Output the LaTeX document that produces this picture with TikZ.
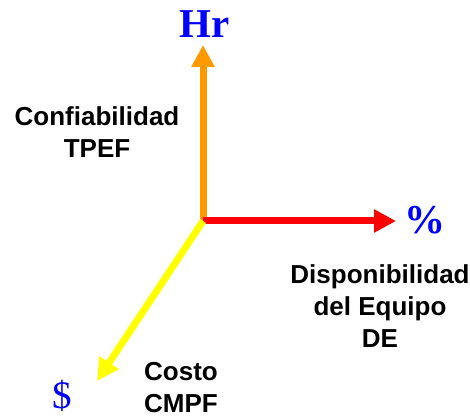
\documentclass[tikz,border=0pt]{standalone}
\usepackage{fontspec}
\setmainfont{Liberation Sans}
\newfontfamily\axisfont{Liberation Serif}
\usepackage{xcolor}
\usetikzlibrary{arrows.meta}
\usetikzlibrary{positioning}

\definecolor{ejeorange}{HTML}{FF9900}
\definecolor{ejered}{HTML}{FF0000}
\definecolor{ejeyellow}{HTML}{FFFF00}
\definecolor{ejeblue}{HTML}{0000FF}

\tikzset{
  eje/.style={line width=7pt, -{Triangle[length=22pt,width=22pt]}},
  unidad/.style={text=ejeblue, inner sep=0pt, font=\axisfont\fontsize{41}{41}\selectfont\bfseries},
  etiqueta/.style={align=center, inner sep=0pt, font=\fontsize{26}{32}\selectfont\bfseries}
}

\begin{document}
\begin{tikzpicture}[x=1pt,y=-1pt]
        \useasboundingbox (0,0) rectangle (470,419);

        \coordinate (o) at (203,221);
        \coordinate (hr) at (203,45);
        \coordinate (pc) at (396,221);
        \coordinate (us) at (97,381);

        \draw[eje, ejeorange] (o) -- (hr);
        \draw[eje, ejered] (o) -- (pc);
        \draw[eje, ejeyellow] (o) -- (us);

        \node[unidad] (lhr) at (205,24) {Hr};
        \node[unidad] (lpc) at (425,220) {\%};
        \node[unidad, font=\axisfont\fontsize{39}{39}\selectfont] (lus) at (62,396) {\$};

        \node[etiqueta] (conf) at (97,132) {Confiabilidad\\TPEF};
        \node[etiqueta] (disp) at (380,306) {Disponibilidad\\del Equipo\\DE};
        \node[etiqueta] (costo) at (181,388) {Costo\\CMPF};
    \end{tikzpicture}
\end{document}
